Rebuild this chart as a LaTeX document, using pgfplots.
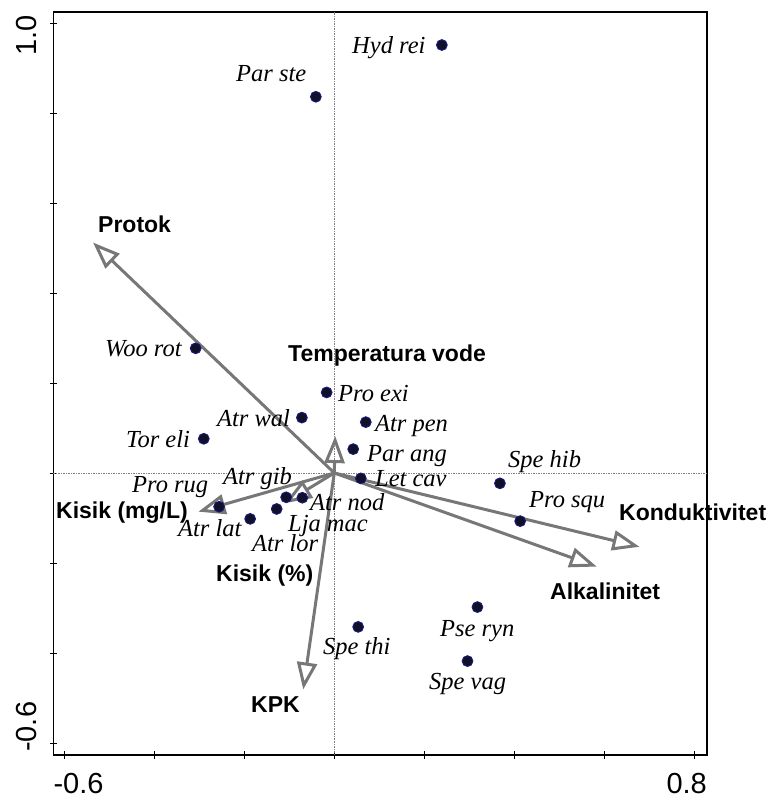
\documentclass[border=0pt]{standalone}
\usepackage{pgfplots}
\pgfplotsset{compat=1.18}
\usepackage{fontspec}
\setmainfont{Liberation Serif}
\newfontfamily\arial{Liberation Sans}
\usetikzlibrary{arrows.meta}

\definecolor{vecgray}{HTML}{777777}
\definecolor{dotfill}{HTML}{101028}
\definecolor{dotedge}{HTML}{1A1A80}

% species scores (axis 1, axis 2)
\pgfplotstableread{
x y
0.239 0.951
-0.041 0.836
-0.308 0.277
-0.017 0.179
-0.072 0.123
0.070 0.113
-0.290 0.076
0.042 0.053
0.059 -0.012
-0.256 -0.075
-0.107 -0.054
-0.071 -0.055
-0.128 -0.080
-0.187 -0.102
0.368 -0.023
0.413 -0.107
0.318 -0.298
0.296 -0.418
0.053 -0.342
}\species

\newcommand{\splab}[3]{\node[anchor=base west, inner sep=0, font=\fontsize{24.5}{28}\selectfont\itshape] at (axis cs:#1,#2) {#3};}
\newcommand{\envlab}[3]{\node[anchor=base west, inner sep=0, font=\fontsize{23}{27}\selectfont\arial\bfseries] at (axis cs:#1,#2) {#3};}
\pgfplotsset{vec/.style={vecgray, line width=3pt, -{Triangle[open, length=27pt, width=20pt]}}}

\begin{document}
\begin{tikzpicture}
\path[use as bounding box] (-53.3pt,-44pt) rectangle (718.7pt,755pt);
\begin{axis}[
    scale only axis,
    width=653.7pt, height=743pt,
    xmin=-0.6244, xmax=0.8282,
    ymin=-0.6267, ymax=1.0244,
    xtick={-0.6,-0.4,-0.2,0,0.2,0.4,0.6,0.8},
    ytick={-0.6,-0.4,-0.2,0,0.2,0.4,0.6,0.8,1.0},
    xticklabels={}, yticklabels={},
    xtick pos=lower, ytick pos=left,
    tick align=center,
    major tick length=7pt,
    tick style={black, line width=0.9pt},
    axis line style={black, line width=1.5pt},
    clip=false,
  ]
  % zero lines
  \addplot[gray, dashed, dash pattern=on 1.5pt off 1pt, line width=0.7pt] coordinates {(0,-0.6267) (0,1.0244)};
  \addplot[gray, dashed, dash pattern=on 1.5pt off 1pt, line width=0.7pt] coordinates {(-0.6244,0) (0.8282,0)};

  % environmental vectors
  \addplot[vec] coordinates {(0,0) (-0.536,0.512)};   % Protok
  \addplot[vec] coordinates {(0,0) (0.002,0.082)};    % Temperatura vode
  \addplot[vec] coordinates {(0,0) (-0.302,-0.086)};  % Kisik (mg/L)
  \addplot[vec] coordinates {(0,0) (-0.110,-0.067)};  % Kisik (%)
  \addplot[vec] coordinates {(0,0) (-0.069,-0.481)};  % KPK
  \addplot[vec] coordinates {(0,0) (0.678,-0.164)};   % Konduktivitet
  \addplot[vec] coordinates {(0,0) (0.583,-0.208)};   % Alkalinitet

  % species points
  \addplot[only marks, mark=*, mark size=5.4pt,
    mark options={fill=dotfill, draw=dotedge, line width=0.9pt}] table {\species};

  % species labels
  \splab{0.0393}{0.9311}{Hyd rei}
  \splab{-0.2184}{0.8689}{Par ste}
  \splab{-0.5096}{0.2578}{Woo rot}
  \splab{0.0082}{0.1578}{Pro exi}
  \splab{-0.2607}{0.1022}{Atr wal}
  \splab{0.0904}{0.0911}{Atr pen}
  \splab{-0.4629}{0.0556}{Tor eli}
  \splab{0.0727}{0.0244}{Par ang}
  \splab{0.0904}{-0.0311}{Let cav}
  \splab{-0.4496}{-0.0444}{Pro rug}
  \splab{-0.2473}{-0.0267}{Atr gib}
  \splab{-0.0540}{-0.0844}{Atr nod}
  \splab{-0.1029}{-0.1311}{Lja mac}
  \splab{-0.3473}{-0.1422}{Atr lat}
  \splab{-0.1829}{-0.1756}{Atr lor}
  \splab{0.3860}{0.0111}{Spe hib}
  \splab{0.4327}{-0.0778}{Pro squ}
  \splab{0.2349}{-0.3644}{Pse ryn}
  \splab{0.2104}{-0.4822}{Spe vag}
  \splab{-0.0251}{-0.4044}{Spe thi}

  % variable labels
  \envlab{-0.5251}{0.5333}{Protok}
  \envlab{-0.1029}{0.2467}{Temperatura vode}
  \envlab{-0.6184}{-0.1022}{Kisik (mg/L)}
  \envlab{-0.2629}{-0.2422}{Kisik (\%)}
  \envlab{-0.1851}{-0.5333}{KPK}
  \envlab{0.6327}{-0.1067}{Konduktivitet}
  \envlab{0.4793}{-0.2822}{Alkalinitet}

  % axis end labels
  \node[anchor=north west, inner sep=0, font=\fontsize{29}{33}\selectfont\arial] at ([yshift=-18pt]rel axis cs:0,0) {-0.6};
  \node[anchor=north east, inner sep=0, font=\fontsize{29}{33}\selectfont\arial] at ([yshift=-18pt]rel axis cs:1,0) {0.8};
  \node[rotate=90, anchor=south east, inner sep=0, font=\fontsize{29}{33}\selectfont\arial] at ([xshift=-16pt,yshift=-3pt]rel axis cs:0,1) {1.0};
  \node[rotate=90, anchor=south west, inner sep=0, font=\fontsize{29}{33}\selectfont\arial] at ([xshift=-16pt,yshift=3pt]rel axis cs:0,0) {-0.6};
\end{axis}
\end{tikzpicture}
\end{document}
